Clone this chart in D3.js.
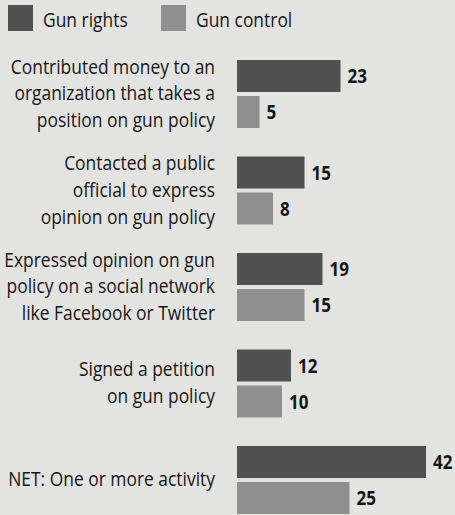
<!DOCTYPE html>
<html>
<head>
<meta charset="utf-8">
<script src="https://cdn.jsdelivr.net/npm/d3@7"></script>
<style>
  html, body { margin: 0; padding: 0; background: #e3e3e1; }
</style>
</head>
<body>
<div id="chart"></div>
<script>
const activities = [
  "Contributed money to an|organization that takes a|position on gun policy",
  "Contacted a public|official to express|opinion on gun policy",
  "Expressed opinion on gun|policy on a social network|like Facebook or Twitter",
  "Signed a petition|on gun policy",
  "NET: One or more activity"
];
const series = ["Gun rights", "Gun control"];
const gunRights = [23, 15, 19, 12, 42];
const gunControl = [5, 8, 15, 10, 25];

const width = 455;
const height = 515;
const barLeft = 237;
const labelRight = 215;

const colors = d3.scaleOrdinal().domain(series).range(["#505050", "#8f8f8f"]);

const svg = d3
  .select("#chart")
  .append("svg")
  .attr("width", width)
  .attr("height", height)
  .style("font-family", "'Open Sans', sans-serif")
  .style("display", "block");

svg.append("rect")
  .attr("width", width)
  .attr("height", height)
  .attr("fill", "#e3e3e1");

const x = d3.scaleLinear().domain([0, 42]).range([0, 189]);

const y0 = d3.scaleBand()
  .domain(activities)
  .range([60, 60 + 5 * 96.5]);

const y1 = d3.scaleBand()
  .domain(series)
  .range([0, 68])
  .paddingInner(4 / 36);

const rows = activities.map((a, i) => ({
  label: a,
  values: [
    { key: series[0], value: gunRights[i] },
    { key: series[1], value: gunControl[i] }
  ]
}));

// condensed look: squeeze text horizontally
const squeeze = 0.85;
const ink = "#161616";

const groups = svg.append("g")
  .selectAll("g")
  .data(rows)
  .join("g")
  .attr("transform", d => `translate(0,${y0(d.label)})`);

groups.selectAll("rect")
  .data(d => d.values)
  .join("rect")
  .attr("x", barLeft)
  .attr("y", d => y1(d.key))
  .attr("width", d => x(d.value))
  .attr("height", y1.bandwidth())
  .attr("fill", d => colors(d.key));

groups.selectAll("g.val")
  .data(d => d.values)
  .join("g")
  .attr("class", "val")
  .attr("transform", d =>
    `translate(${barLeft + x(d.value) + 7},${y1(d.key) + y1.bandwidth() / 2 + 7}) scale(${squeeze},1)`)
  .append("text")
  .attr("font-size", 20)
  .attr("font-weight", "bold")
  .attr("fill", ink)
  .text(d => d.value);

// category labels
groups.each(function (d) {
  const lines = d.label.split("|");
  const center = 34;
  const lab = d3.select(this).append("g")
    .attr("transform", `translate(${labelRight},0) scale(${squeeze},1)`);
  lab.selectAll("text")
    .data(lines)
    .join("text")
    .attr("text-anchor", "end")
    .attr("font-size", 20.5)
    .attr("fill", ink)
    .attr("y", (l, i) => center + 6.5 + (i - (lines.length - 1) / 2) * 27)
    .text(l => l);
});

// legend
const legendX = [8, 161];
const legend = svg.append("g")
  .selectAll("g")
  .data(series)
  .join("g")
  .attr("transform", (d, i) => `translate(${legendX[i]},5)`);

legend.append("rect")
  .attr("width", 25)
  .attr("height", 26)
  .attr("fill", d => colors(d));

legend.append("g")
  .attr("transform", `translate(35,22) scale(${squeeze},1)`)
  .append("text")
  .attr("font-size", 20.5)
  .attr("fill", ink)
  .text(d => d);
</script>
</body>
</html>
